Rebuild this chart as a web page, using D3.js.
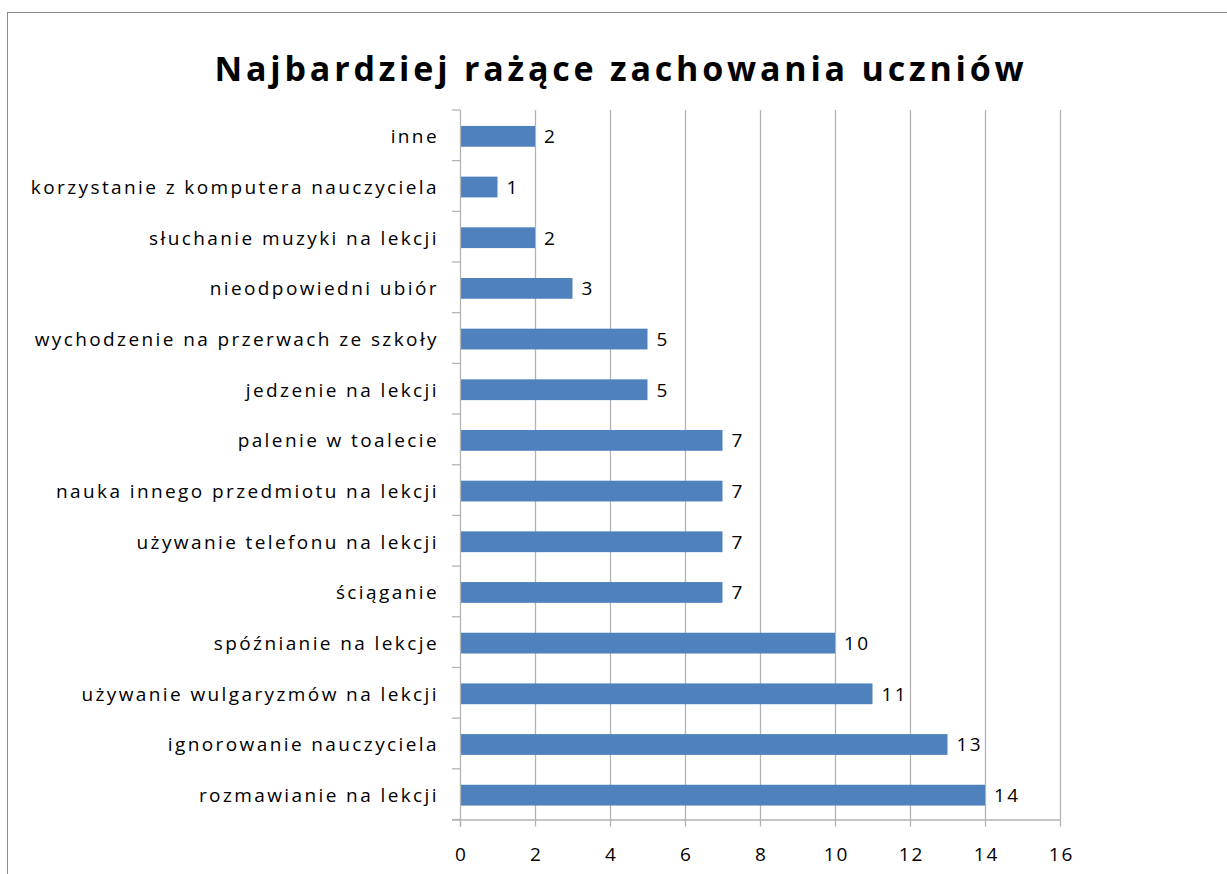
<!DOCTYPE html>
<html>
<head>
<meta charset="utf-8">
<script src="https://cdn.jsdelivr.net/npm/d3@7"></script>
<style>
  body { margin: 0; background: #fff; }
  svg text { font-family: "Open Sans", "DejaVu Sans", sans-serif; fill: #000; }
</style>
</head>
<body>
<div id="chart"></div>
<script>
// categories listed top to bottom, as in the picture
const categories = [
    "inne",
    "korzystanie z komputera nauczyciela",
    "słuchanie muzyki na lekcji",
    "nieodpowiedni ubiór",
    "wychodzenie na przerwach ze szkoły",
    "jedzenie na lekcji",
    "palenie w toalecie",
    "nauka innego przedmiotu na lekcji",
    "używanie telefonu na lekcji",
    "ściąganie",
    "spóźnianie na lekcje",
    "używanie wulgaryzmów na lekcji",
    "ignorowanie nauczyciela",
    "rozmawianie na lekcji"
];
const values = [2, 1, 2, 3, 5, 5, 7, 7, 7, 7, 10, 11, 13, 14];
const xTicks = [0, 2, 4, 6, 8, 10, 12, 14, 16];
const title = "Najbardziej rażące zachowania uczniów";

const width = 1227, height = 874;
const plot = { left: 460, right: 1060, top: 110, bottom: 819.5 };

const svg = d3.select("#chart")
    .append("svg")
    .attr("width", width)
    .attr("height", height);

// outer frame
svg.append("rect")
    .attr("x", 7.5).attr("y", 12.5)
    .attr("width", 1240).attr("height", 900)
    .style("fill", "none")
    .style("stroke", "#8c8c8c")
    .style("stroke-width", 1);

svg.append("text")
    .attr("x", 621)
    .attr("y", 81)
    .attr("text-anchor", "middle")
    .style("font-size", "34px")
    .style("font-weight", "bold")
    .style("letter-spacing", "3.8px")
    .text(title);

const x = d3.scaleLinear().domain([0, 16]).range([plot.left, plot.right]);
const y = d3.scaleBand().domain(categories).range([plot.top, plot.bottom]).paddingInner(0.59).paddingOuter(0.295);

// vertical gridlines
svg.selectAll(".grid")
    .data(xTicks.slice(1))
    .enter()
    .append("line")
    .attr("class", "grid")
    .attr("x1", d => Math.round(x(d)) + 0.5)
    .attr("x2", d => Math.round(x(d)) + 0.5)
    .attr("y1", plot.top)
    .attr("y2", plot.bottom)
    .style("stroke", "#b3b3b3")
    .style("stroke-width", 1.3);

// bars
svg.selectAll(".bar")
    .data(categories)
    .enter()
    .append("rect")
    .attr("class", "bar")
    .attr("x", x(0))
    .attr("y", d => y(d) + 1)
    .attr("width", (d, i) => x(values[i]) - x(0))
    .attr("height", y.bandwidth())
    .style("fill", "#4f81bd");

// value labels
svg.selectAll(".val")
    .data(categories)
    .enter()
    .append("text")
    .attr("class", "val")
    .attr("x", (d, i) => x(values[i]) + 9)
    .attr("y", d => y(d) + 1 + y.bandwidth() / 2)
    .attr("dy", "0.36em")
    .style("font-size", "19px")
    .style("letter-spacing", "2.5px")
    .text((d, i) => values[i]);

// x axis
const xAxis = svg.append("g")
    .attr("transform", `translate(0,${plot.bottom})`)
    .call(d3.axisBottom(x).tickValues(xTicks).tickSize(7).tickFormat(d3.format("d")));
xAxis.select(".domain").attr("d", `M${plot.left - 8},0.5H${plot.right}`);
xAxis.selectAll("line, .domain").style("stroke", "#b3b3b3").style("stroke-width", 1.3);
xAxis.selectAll("text")
    .attr("y", 41)
    .attr("dy", 0)
    .attr("dx", "1px")
    .style("font-size", "19px")
    .style("letter-spacing", "2px")
    .style("font-family", "\"Open Sans\", sans-serif");

// y axis: category boundary ticks
const yAxis = svg.append("g");
yAxis.append("line")
    .attr("x1", plot.left + 0.5).attr("x2", plot.left + 0.5)
    .attr("y1", plot.top).attr("y2", plot.bottom + 7)
    .style("stroke", "#b3b3b3").style("stroke-width", 1.3);
const step = y.step();
yAxis.selectAll(".ytick")
    .data(d3.range(categories.length + 1))
    .enter()
    .append("line")
    .attr("class", "ytick")
    .attr("x1", plot.left - 8).attr("x2", plot.left)
    .attr("y1", i => plot.top + i * step)
    .attr("y2", i => plot.top + i * step)
    .style("stroke", "#b3b3b3").style("stroke-width", 1.3);

yAxis.selectAll(".ylab")
    .data(categories)
    .enter()
    .append("text")
    .attr("class", "ylab")
    .attr("x", plot.left - 21)
    .attr("y", d => y(d) + 1 + y.bandwidth() / 2)
    .attr("dy", "0.36em")
    .attr("text-anchor", "end")
    .style("font-size", "19px")
    .style("letter-spacing", "2.4px")
    .text(d => d);
</script>
</body>
</html>
